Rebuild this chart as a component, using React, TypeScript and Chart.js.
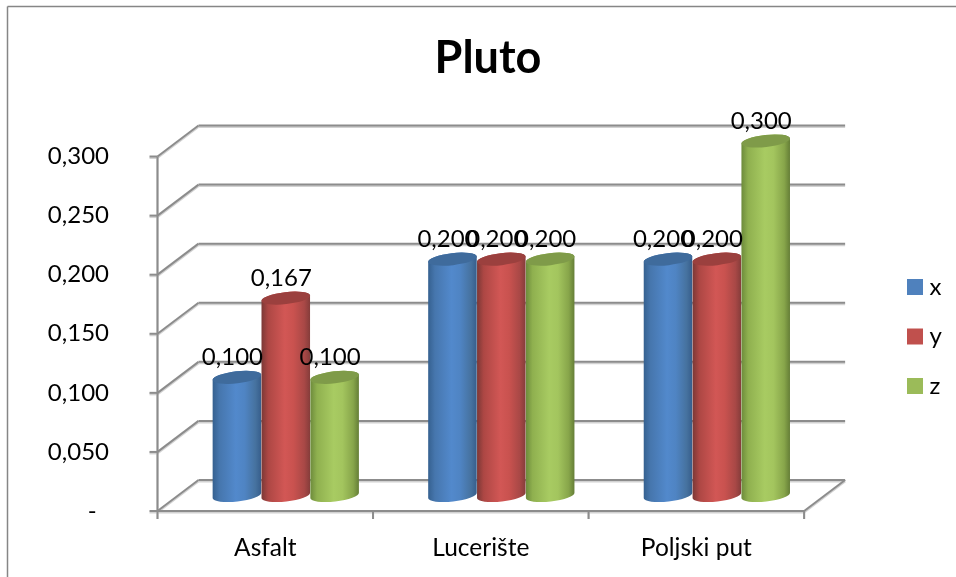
import React, { useEffect, useRef } from "react";
import { Chart, registerables } from "chart.js";

Chart.register(...registerables);

const categories = ["Asfalt", "Lucerište", "Poljski put"];
const seriesX = [0.1, 0.2, 0.2];
const seriesY = [0.167, 0.2, 0.2];
const seriesZ = [0.1, 0.2, 0.3];
const titleText = "Pluto";
const FONT = "Lato, Carlito, sans-serif";

const fmt = (v: number) => v.toFixed(3).replace(".", ",");

const DX = 41;
const DY = -31;
const GRID = "#8c8c8c";

const looks: Record<string, { stops: string[]; top: string }> = {
  x: { stops: ["#35608f", "#4676ad", "#5289cc", "#4f84c3", "#46729f", "#365d8b"], top: "#3f6b9c" },
  y: { stops: ["#7a3836", "#ad4744", "#d25755", "#c9524f", "#a84846", "#843c3a"], top: "#9b403e" },
  z: { stops: ["#6c8a3b", "#8fb04f", "#a8cb62", "#a3c55e", "#87a54a", "#647d36"], top: "#7f9b49" },
};

function line(ctx: CanvasRenderingContext2D, x1: number, y1: number, x2: number, y2: number) {
  ctx.beginPath();
  ctx.moveTo(x1, y1);
  ctx.lineTo(x2, y2);
  ctx.stroke();
}

const wallsPlugin = {
  id: "walls",
  beforeDatasetsDraw(chart: any) {
    const { ctx, chartArea: a, scales } = chart;
    const ys = scales.y;
    const xs = scales.x;
    ctx.save();
    // frame: only the top and left edges are inside the picture
    ctx.strokeStyle = "#868686";
    ctx.lineWidth = 1.5;
    line(ctx, 7.5, 6.5, 956, 6.5);
    line(ctx, 7.5, 6.5, 7.5, 577);
    ctx.lineCap = "butt";
    // soft shade then lines
    for (const pass of [0, 1]) {
      ctx.strokeStyle = pass === 0 ? "#d2d2d2" : GRID;
      ctx.lineWidth = 2;
      const off = pass === 0 ? 1.5 : 0;
      ys.ticks.forEach((t: any, i: number) => {
        const y = ys.getPixelForTick(i) + off;
        line(ctx, a.left, y, a.left + DX, y + DY);
        line(ctx, a.left + DX, y + DY, a.right + DX, y + DY);
        line(ctx, a.left - 8, y, a.left, y);
      });
      const b = a.bottom + off;
      line(ctx, a.left, b, a.right, b);
      line(ctx, a.right, b, a.right + DX, b + DY);
      line(ctx, a.left, a.top, a.left, a.bottom);
      const n = categories.length;
      for (let i = 0; i <= n; i++) {
        const x = i < n ? xs.getPixelForValue(i) - (a.width / n) / 2 : a.right;
        line(ctx, x, a.bottom, x, a.bottom + 8);
      }
    }
    // cylinders, first series first so that later ones overlap it
    const rot = (-6.5 * Math.PI) / 180;
    chart.data.datasets.forEach((ds: any, idx: number) => {
      const look = looks[ds.label];
      chart.getDatasetMeta(idx).data.forEach((el: any) => {
        const p = el.getProps(["x", "y", "base", "width"], true);
        const cx = p.x + DX / 2;
        const top = p.y + DY / 2;
        const bot = p.base + DY / 2;
        const rx = p.width / 2;
        const ry = 6;
        const g = ctx.createLinearGradient(cx - rx, 0, cx + rx, 0);
        look.stops.forEach((c, i) => g.addColorStop([0, 0.14, 0.48, 0.66, 0.88, 1][i], c));
        ctx.fillStyle = g;
        ctx.beginPath();
        ctx.ellipse(cx, bot, rx, ry, rot, Math.PI, 0, true);
        ctx.ellipse(cx, top, rx, ry, rot, 0, Math.PI, true);
        ctx.closePath();
        ctx.fill();
        ctx.fillStyle = look.top;
        ctx.beginPath();
        ctx.ellipse(cx, top, rx, ry, rot, 0, Math.PI * 2);
        ctx.fill();
      });
    });
    ctx.restore();
  },
  beforeDatasetDraw() {
    return false;
  },
  afterDatasetsDraw(chart: any) {
    const { ctx } = chart;
    ctx.save();
    ctx.fillStyle = "#000";
    ctx.font = `24px ${FONT}`;
    ctx.textAlign = "center";
    ctx.textBaseline = "middle";
    chart.data.datasets.forEach((ds: any, i: number) => {
      chart.getDatasetMeta(i).data.forEach((el: any, j: number) => {
        const p = el.getProps(["x", "y"], true);
        ctx.fillText(fmt(ds.data[j]), p.x + DX / 2 - 4.5, p.y + DY / 2 - 20);
      });
    });
    ctx.restore();
  },
  afterLayout(chart: any) {
    if (chart.titleBlock) {
      chart.titleBlock.left = 20;
      chart.titleBlock.right = 956;
    }
    if (chart.legend) {
      chart.legend.left = 887;
      chart.legend.right = 956;
      chart.legend.top = 200;
      chart.legend.bottom = 473;
    }
  },
};

export default function App() {
  const ref = useRef<HTMLCanvasElement>(null);
  useEffect(() => {
    const chart = new Chart(ref.current as HTMLCanvasElement, {
      type: "bar",
      data: {
        labels: categories,
        datasets: [
          { label: "x", data: seriesX, backgroundColor: "#4f81bd" },
          { label: "y", data: seriesY, backgroundColor: "#c0504d" },
          { label: "z", data: seriesZ, backgroundColor: "#9bbb59" },
        ],
      },
      options: {
        responsive: false,
        animation: false,
        layout: { padding: { top: 31, right: 87, bottom: 0, left: 0 } },
        datasets: { bar: { categoryPercentage: 0.68, barPercentage: 1 } },
        plugins: {
          tooltip: { enabled: false },
          title: {
            display: true,
            text: titleText,
            color: "#000",
            font: { family: FONT, size: 45, weight: "bold", lineHeight: 1.2 },
            padding: { top: 0, bottom: 71.5 },
          },
          legend: {
            display: true,
            position: "right",
            labels: {
              boxWidth: 5,
              boxHeight: 5,
              padding: 25.5,
              color: "#000",
              font: { family: FONT, size: 24 },
              generateLabels: (c: any) =>
                Chart.defaults.plugins.legend.labels.generateLabels(c).map((it: any) => ({
                  ...it,
                  strokeStyle: it.fillStyle,
                  lineWidth: 11,
                })),
            },
          },
        },
        scales: {
          x: {
            grid: { display: false, drawTicks: false },
            border: { display: false },
            ticks: { color: "#000", padding: 22, font: { family: FONT, size: 24.5 }, maxRotation: 0 },
            afterFit: (s: any) => { s.height = 66; },
          },
          y: {
            min: 0,
            max: 0.3,
            grid: { display: false, drawTicks: false },
            border: { display: false },
            ticks: {
              stepSize: 0.05,
              color: "#000",
              padding: 48.5,
              font: { family: FONT, size: 24 },
              callback: (v: any) => (Number(v) === 0 ? "-  " : fmt(Number(v))),
            },
            afterFit: (s: any) => { s.width = 157.5; },
          },
        },
      },
      plugins: [wallsPlugin],
    } as any);
    return () => chart.destroy();
  }, []);
  return (
    <div style={{ position: "fixed", left: 0, top: 0, width: 956, height: 577, background: "#fff" }}>
      <canvas ref={ref} width={956} height={577} style={{ display: "block", filter: "blur(0.45px)" }} />
    </div>
  );
}
